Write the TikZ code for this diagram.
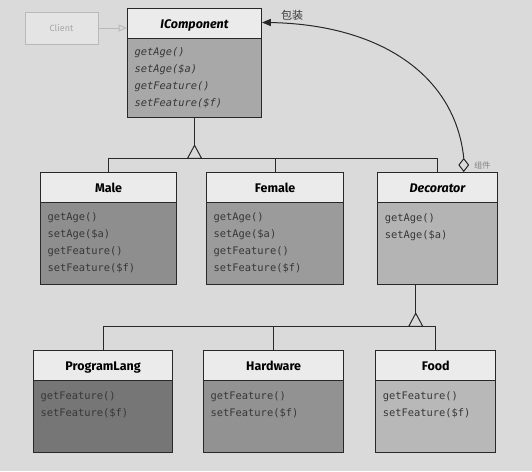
\documentclass[tikz,border=0pt]{standalone}
\usepackage{fontspec}
\setsansfont{Fira Sans}
\setmonofont{DejaVu Sans Mono}
\newfontfamily\cjk{Noto Sans CJK SC}
\usepackage{tikz}
\usetikzlibrary{arrows}
\usetikzlibrary{positioning}
\usetikzlibrary{shapes.multipart}
\usetikzlibrary{shapes.geometric}
\definecolor{paper}{RGB}{218,218,218}
\definecolor{head}{RGB}{235,235,235}
\definecolor{ink}{RGB}{40,40,40}
\definecolor{txt}{RGB}{55,55,55}
\definecolor{icb}{RGB}{168,168,168}
\definecolor{maleb}{RGB}{142,142,142}
\definecolor{femb}{RGB}{155,155,155}
\definecolor{decb}{RGB}{180,180,180}
\definecolor{progb}{RGB}{118,118,118}
\definecolor{hardb}{RGB}{146,146,146}
\definecolor{foodb}{RGB}{184,184,184}
\newcommand{\headstrut}{\rule[-9.5pt]{0pt}{29pt}}
\newcommand{\members}[4]{\parbox[t][#1][t]{#2}{\ttfamily\mdseries\fontsize{10.4}{17}\selectfont\vspace*{#3}\color{txt}#4}}
\tikzstyle{every node}+=[inner sep=0pt]
\tikzstyle{class} = [rectangle split, rectangle split parts=2, draw=ink, line width=1.1pt, inner xsep=7pt, inner ysep=0pt, rectangle split part align={center,left}, font=\sffamily\bfseries\fontsize{12.5}{14}\selectfont]
\tikzstyle{line} = [draw=ink, line width=1pt]
\tikzstyle{gen} = [draw=ink, line width=1pt, fill=paper]
\tikzstyle{note} = [text=txt, font=\cjk\fontsize{11}{11}\selectfont]

\begin{document}
\begin{tikzpicture}[x=1pt, y=1pt]
            \fill [paper] (0,0) rectangle (532,-471);
            % Place nodes
            \node [draw=gray!55, fill=head!60!paper, line width=1pt, minimum width=73pt, minimum height=32pt, text=gray!70, font=\sffamily\fontsize{9}{9}\selectfont] (client) at (61.5,-28) {Client};
            \node [class, rectangle split part fill={head,icb}, anchor=north west] (icomp) at (127,-8)
              {\headstrut\textit{IComponent}\nodepart{two}\members{78pt}{120pt}{8pt}{\itshape getAge()\\setAge(\$a)\\getFeature()\\setFeature(\$f)}};
            \node [class, rectangle split part fill={head,maleb}, anchor=north west] (male) at (40,-172)
              {\headstrut Male\nodepart{two}\members{81pt}{122pt}{9pt}{getAge()\\setAge(\$a)\\getFeature()\\setFeature(\$f)}};
            \node [class, rectangle split part fill={head,femb}, right=29pt of male] (female)
              {\headstrut Female\nodepart{two}\members{81pt}{123pt}{9pt}{getAge()\\setAge(\$a)\\getFeature()\\setFeature(\$f)}};
            \node [class, rectangle split part fill={head,decb}, right=33pt of female] (decorator)
              {\headstrut\textit{Decorator}\nodepart{two}\members{81pt}{106pt}{10pt}{getAge()\\setAge(\$a)}};
            \node [class, rectangle split part fill={head,progb}, anchor=north west] (proglang) at (33,-350)
              {\headstrut ProgramLang\nodepart{two}\members{71pt}{125pt}{10pt}{getFeature()\\setFeature(\$f)}};
            \node [class, rectangle split part fill={head,hardb}, right=30pt of proglang] (hardware)
              {\headstrut Hardware\nodepart{two}\members{71pt}{126pt}{10pt}{getFeature()\\setFeature(\$f)}};
            \node [class, rectangle split part fill={head,foodb}, right=31pt of hardware] (food)
              {\headstrut Food\nodepart{two}\members{71pt}{106pt}{10pt}{getFeature()\\setFeature(\$f)}};
            \node [diamond, draw=ink, line width=1pt, fill=paper, minimum width=10pt, minimum height=13pt, anchor=south] (dia) at ([xshift=26pt]decorator.north) {};
            \node [note, right=5pt of dia, font=\cjk\fontsize{8}{8}\selectfont, text=gray] (lblpart) {组件};
            \node [note] (lblwrap) at (292,-15) {包装};
            \coordinate (tri1) at ([yshift=-27pt]icomp.south);
            \coordinate (bus1) at ([yshift=-13pt]tri1);
            \coordinate (tri2) at ([xshift=-22pt, yshift=-28pt]decorator.south);
            \coordinate (bus2) at ([yshift=-13pt]tri2);
            % Draw edges
            \path [draw=gray!55, line width=0.9pt, -open triangle 45] (client) -- (client -| icomp.west);
            \path [line] (icomp.south) -- (tri1);
            \path [line] (male.north) |- (bus1) -| (decorator.north);
            \path [line] (female.north) -- (female.north |- bus1);
            \path [gen] (tri1) -- ++(-7,-13) -- ++(14,0) -- cycle;
            \path [line] (decorator.south -| tri2) -- (tri2);
            \path [line] (proglang.north) |- (bus2) -| (food.north);
            \path [line] (hardware.north) -- (hardware.north |- bus2);
            \path [gen] (tri2) -- ++(-7,-13) -- ++(14,0) -- cycle;
            \path [line, -triangle 45] (dia.north) to[out=96, in=0, out distance=85pt, in distance=115pt] ([yshift=-14.5pt]icomp.north east);
          \end{tikzpicture}
\end{document}
